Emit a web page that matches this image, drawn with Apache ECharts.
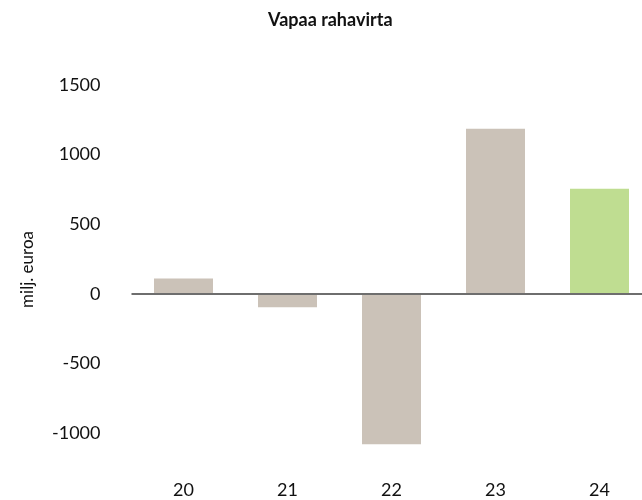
<!DOCTYPE html>
<html><head><meta charset="utf-8">
<script src="https://cdn.jsdelivr.net/npm/echarts@6/dist/echarts.min.js"></script>
<style>html,body{margin:0;padding:0;background:#fff;overflow:hidden}#c{width:652px;height:500px}</style>
</head><body><div id="c"></div>
<script>
const title = 'Vapaa rahavirta';
const yName = 'milj. euroa';
const categories = ['20', '21', '22', '23', '24'];
const values = [110, -95, -1080, 1185, 756];
const barColors = ['#cbc2b8', '#cbc2b8', '#cbc2b8', '#cbc2b8', '#bfdd91'];
const font = 'Lato, "Open Sans", sans-serif';

const chart = echarts.init(document.getElementById('c'), null, {renderer: 'canvas'});
chart.setOption({
  animation: false,
  backgroundColor: '#fff',
  title: {text: title, left: 263, top: 6,
    textStyle: {fontFamily: font, fontSize: 18, fontWeight: 'bold', color: '#111'}},
  graphic: [{type: 'text', left: 19, top: 231, rotation: Math.PI / 2,
    style: {text: yName, font: '17px ' + font, fill: '#111'}}],
  grid: {left: 131.5, right: 0.5, top: 85, bottom: 25, containLabel: false},
  xAxis: {type: 'category', data: categories, position: 'bottom',
    axisLine: {show: false}, axisTick: {show: false},
    axisLabel: {margin: 6, fontFamily: font, fontSize: 18, color: '#111'}},
  yAxis: {type: 'value', min: -1300, max: 1500, interval: 100,
    splitLine: {show: false}, axisLine: {show: false}, axisTick: {show: false},
    axisLabel: {margin: 31, fontFamily: font, fontSize: 18, color: '#111',
      formatter: v => (v % 500 === 0 ? String(v) : '')}},
  series: [{type: 'bar', barWidth: 59,
    data: values.map((v, i) => ({value: v, itemStyle: {color: barColors[i]}})),
    markLine: {silent: true, symbol: 'none', label: {show: false},
      lineStyle: {color: '#6e6e6e', width: 2, type: 'solid'},
      data: [{yAxis: 0}]}
  }]
});
</script></body></html>
